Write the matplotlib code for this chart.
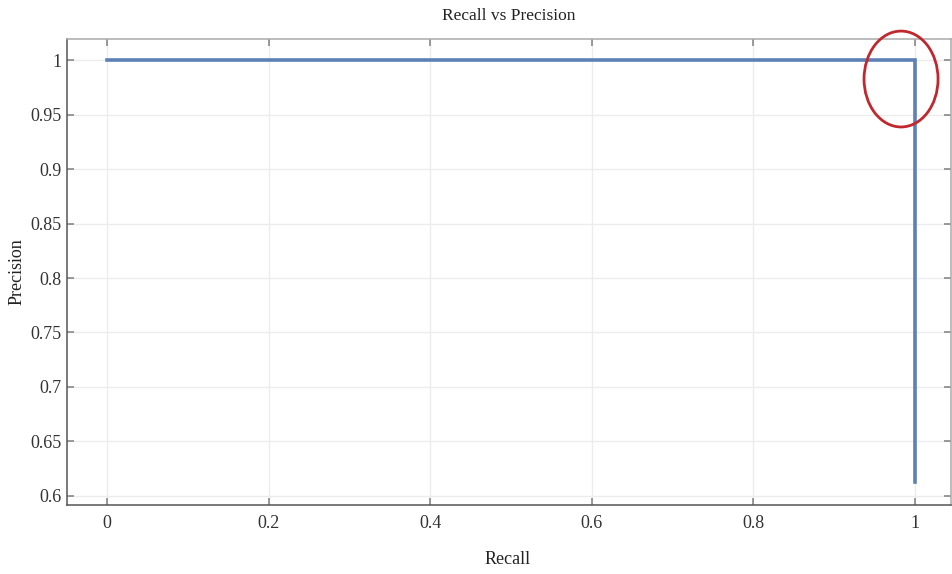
import matplotlib
matplotlib.use("Agg")
import matplotlib.pyplot as plt
from matplotlib.patches import Ellipse

# ── Data ─────────────────────────────────────────────────
recall = [0.0, 1.0, 1.0]
precision = [1.0, 1.0, 0.613]
x_ticks = [0, 0.2, 0.4, 0.6, 0.8, 1]
x_labels = ["0", "0.2", "0.4", "0.6", "0.8", "1"]
y_ticks = [0.6, 0.65, 0.7, 0.75, 0.8, 0.85, 0.9, 0.95, 1]
y_labels = ["0.6", "0.65", "0.7", "0.75", "0.8", "0.85", "0.9", "0.95", "1"]
highlight = (0.9827, 0.9826)   # corner that is circled

plt.rcParams["font.family"] = ["Liberation Serif", "DejaVu Serif"]

fig = plt.figure(figsize=(9.53, 5.74), dpi=100)
ax = fig.add_axes([0.0703, 0.1202, 0.9280, 0.8118])

ax.plot(recall, precision, color="#5E81B5", linewidth=2.6, solid_joinstyle="miter")

ax.set_xlim(-0.0495, 1.045)
ax.set_ylim(0.5917, 1.0193)
ax.set_xticks(x_ticks)
ax.set_xticklabels(x_labels)
ax.set_yticks(y_ticks)
ax.set_yticklabels(y_labels)
ax.grid(True, color="#ececec", linewidth=1.0)
ax.set_axisbelow(True)

ax.tick_params(direction="in", length=5, width=1.2, color="#888888",
               labelsize=13, labelcolor="#333333", top=True, right=True)
ax.tick_params(axis="y", pad=4)
ax.tick_params(axis="x", pad=7)
for side in ["left", "bottom"]:
    ax.spines[side].set_color("#555555")
    ax.spines[side].set_linewidth(1.1)
for side in ["top", "right"]:
    ax.spines[side].set_color("#aaaaaa")
    ax.spines[side].set_linewidth(1.1)

ax.set_title("Recall vs Precision", fontsize=12.5, color="#222222", pad=14)
fig.text(0.5326, 1 - 560 / 574, "Recall", fontsize=13, color="#222222",
         ha="center", va="center")
fig.text(17 / 953, 1 - 272 / 574, "Precision", fontsize=13, color="#222222",
         ha="center", va="center", rotation=90)

ell = Ellipse(highlight, width=0.0916, height=0.088, fill=False,
              edgecolor="#C0282D", linewidth=2.0, clip_on=False, zorder=5)
ax.add_patch(ell)

plt.savefig("out.png", dpi=100)
plt.close()
